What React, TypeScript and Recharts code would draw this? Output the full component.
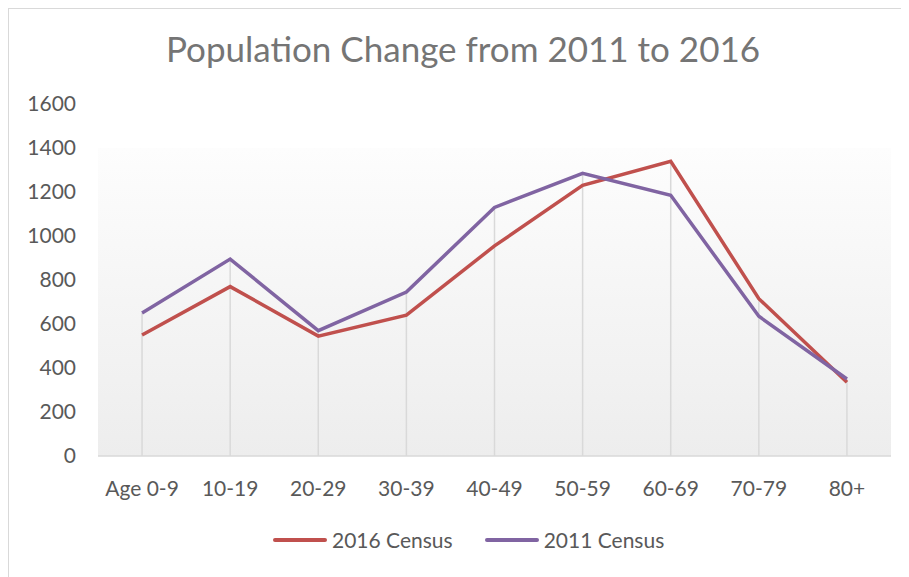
import React from 'react'
import {
  LineChart,
  Line,
  XAxis,
  YAxis,
  ReferenceArea,
  ReferenceLine,
} from 'recharts'

const ageGroups = ['Age 0-9', '10-19', '20-29', '30-39', '40-49', '50-59', '60-69', '70-79', '80+']
const census2016 = [550, 770, 545, 640, 955, 1230, 1340, 715, 335]
const census2011 = [650, 895, 570, 745, 1130, 1285, 1185, 635, 350]
const yTicks = [0, 200, 400, 600, 800, 1000, 1200, 1400, 1600]

const RED = '#C0504D'
const PURPLE = '#8064A2'
const FONT = 'Lato, "Open Sans", sans-serif'

const data = ageGroups.map((age, i) => ({
  age,
  c2016: census2016[i],
  c2011: census2011[i],
}))

const legendItems = [
  { name: '2016 Census', color: RED },
  { name: '2011 Census', color: PURPLE },
]

function ChartLegend() {
  return (
    <div
      style={{
        position: 'absolute',
        top: 518,
        left: 264,
        display: 'flex',
        gap: 32,
        fontFamily: FONT,
      }}
    >
      {legendItems.map((item) => (
        <div key={item.name} style={{ display: 'flex', alignItems: 'center' }}>
          <span
            style={{
              display: 'inline-block',
              width: 54,
              height: 4,
              borderRadius: 2,
              background: item.color,
              marginRight: 5,
            }}
          />
          <span style={{ fontSize: 21, color: '#595959' }}>{item.name}</span>
        </div>
      ))}
    </div>
  )
}

export default function App() {
  return (
    <div
      style={{
        position: 'relative',
        width: 900,
        height: 568,
        borderTop: '1px solid #d9d9d9',
        borderLeft: '1px solid #d9d9d9',
        fontFamily: FONT,
      }}
    >
      <div
        style={{
          position: 'absolute',
          top: 18,
          left: 0,
          width: 908,
          textAlign: 'center',
          fontSize: 35,
          color: '#757575',
        }}
      >
        Population Change from 2011 to 2016
      </div>
      <LineChart
        width={900}
        height={568}
        data={data}
        margin={{ top: 95, right: 18, left: 0, bottom: 91 }}
      >
        <defs>
          <linearGradient id="plotBg" x1="0" y1="0" x2="0" y2="1">
            <stop offset="0%" stopColor="#fdfdfd" />
            <stop offset="100%" stopColor="#ededed" />
          </linearGradient>
        </defs>
        <XAxis
          dataKey="age"
          scale="band"
          height={30}
          stroke="#d9d9d9"
          strokeWidth={1.5}
          tickLine={false}
          tickMargin={19}
          tick={{ fill: '#595959', fontSize: 21 }}
          interval={0}
        />
        <YAxis
          width={89}
          domain={[0, 1600]}
          ticks={yTicks}
          axisLine={false}
          tickLine={false}
          tickSize={0}
          tickMargin={22}
          tick={{ fill: '#595959', fontSize: 21 }}
        />
        <ReferenceArea y1={0} y2={1400} fill="url(#plotBg)" fillOpacity={1} stroke="none" />
        {data.map((d) => (
          <ReferenceLine
            key={d.age}
            segment={[
              { x: d.age, y: 0 },
              { x: d.age, y: Math.max(d.c2016, d.c2011) },
            ]}
            stroke="#d9d9d9"
            strokeWidth={1.5}
          />
        ))}
        <Line
          type="linear"
          dataKey="c2016"
          name="2016 Census"
          stroke={RED}
          strokeWidth={3.5}
          dot={false}
          isAnimationActive={false}
        />
        <Line
          type="linear"
          dataKey="c2011"
          name="2011 Census"
          stroke={PURPLE}
          strokeWidth={3.5}
          dot={false}
          isAnimationActive={false}
        />
      </LineChart>
      <ChartLegend />
    </div>
  )
}
